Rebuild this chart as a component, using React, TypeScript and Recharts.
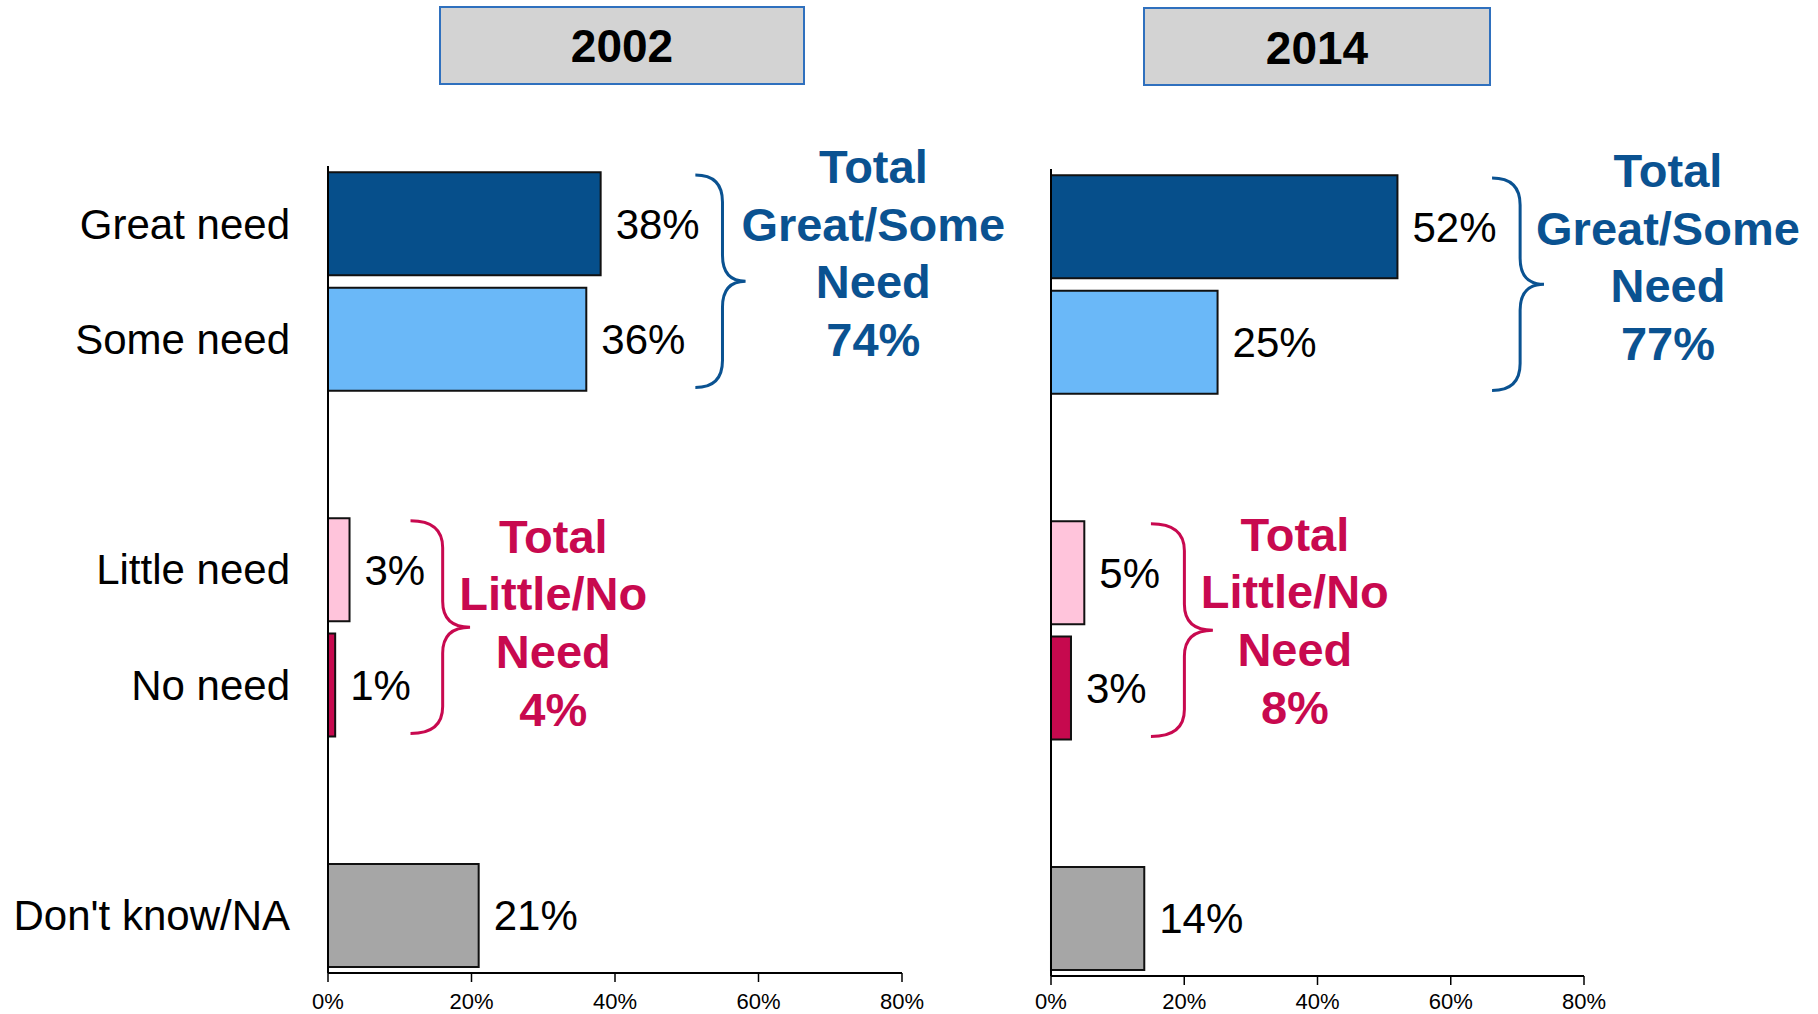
import React from "react";
import {
  BarChart,
  Bar,
  XAxis,
  YAxis,
  Cell,
  LabelList,
  ReferenceArea,
} from "recharts";

const categories = ["Great need", "Some need", "gap1", "Little need", "No need", "gap2", "Don't know/NA"];
const values2002 = [38, 36, null, 3, 1, null, 21];
const values2014 = [52, 25, null, 5, 3, null, 14];
const xTicks = [0, 20, 40, 60, 80];
const needWords = ["Total", "Great/Some", "Need"];
const littleWords = ["Total", "Little/No", "Need"];

const FONT = "'Liberation Sans', Arial, sans-serif";
const BLUE = "#0A5291";
const PINK = "#C8094F";
const barColors = ["#064F8B", "#6AB8F8", "none", "#FFC4DB", "#C6094E", "none", "#A6A6A6"];

const toRows = (vals: (number | null)[]) =>
  categories.map((cat, i) => ({ cat, value: vals[i] }));

const sum = (vals: (number | null)[], a: number, b: number) =>
  (vals[a] ?? 0) + (vals[b] ?? 0);

function Brace(props: any) {
  const { x, y, width, height, color, lines, textX, x1, x2, firstDy } = props;
  if (x == null) return null;
  const y0 = y + 9;
  const y1 = y + height - 9;
  const ym = y + height / 2;
  const xe = x;
  const xs = x + width * 0.54;
  const xt = x + width;
  const r = 27;
  const r2 = 26;
  const d = `M ${xe} ${y0} Q ${xs} ${y0} ${xs} ${y0 + r} L ${xs} ${ym - r2} Q ${xs} ${ym} ${xt} ${ym} Q ${xs} ${ym} ${xs} ${ym + r2} L ${xs} ${y1 - r} Q ${xs} ${y1} ${xe} ${y1}`;
  const cx = x + ((textX - x1) / (x2 - x1)) * width;
  return (
    <g>
      <path d={d} fill="none" stroke={color} strokeWidth={3} />
      {lines.map((t: string, i: number) => (
        <text
          key={i}
          x={cx}
          y={ym + firstDy + i * 57.8}
          textAnchor="middle"
          dominantBaseline="central"
          fontSize={47}
          fontWeight="bold"
          fontFamily={FONT}
          fill={color}
        >
          {t}
        </text>
      ))}
    </g>
  );
}

type Group = {
  from: string;
  to: string;
  x1: number;
  x2: number;
  textX: number;
  firstDy: number;
  color: string;
  lines: string[];
};

function YearChart({
  values,
  groups,
  showLabels,
  width,
  marginTop,
  marginRight,
  yAxisWidth,
  xAxisHeight,
  xTickMargin,
}: {
  values: (number | null)[];
  groups: Group[];
  showLabels: boolean;
  width: number;
  marginTop: number;
  marginRight: number;
  yAxisWidth: number;
  xAxisHeight: number;
  xTickMargin: number;
}) {
  const data = toRows(values);
  return (
    <BarChart
      width={width}
      height={1014}
      data={data}
      layout="vertical"
      margin={{ top: marginTop, right: marginRight, bottom: 0, left: 0 }}
      barCategoryGap="5.5%"
    >
      <XAxis
        type="number"
        domain={[0, 80]}
        ticks={xTicks}
        tickFormatter={(v) => `${v}%`}
        height={xAxisHeight}
        axisLine={{ stroke: "#000", strokeWidth: 2 }}
        tickLine={{ stroke: "#000", strokeWidth: 1.5 }}
        tickSize={9}
        tickMargin={xTickMargin}
        tick={{ fill: "#000", fontSize: 22, fontFamily: FONT }}
        interval={0}
      />
      <YAxis
        type="category"
        dataKey="cat"
        width={yAxisWidth}
        axisLine={{ stroke: "#000", strokeWidth: 2 }}
        tickLine={false}
        tickMargin={32}
        tick={showLabels ? { fill: "#000", fontSize: 42, fontFamily: FONT } : false}
        tickFormatter={(v: string) => (v.startsWith("gap") ? "" : v)}
        interval={0}
      />
      <Bar dataKey="value" isAnimationActive={false} stroke="#111" strokeWidth={2}>
        {data.map((d, i) => (
          <Cell key={d.cat} fill={barColors[i]} />
        ))}
        <LabelList
          dataKey="value"
          position="right"
          offset={15}
          formatter={(v: any) => (v == null ? "" : `${v}%`)}
          style={{ fill: "#000", fontSize: 42, fontFamily: FONT }}
        />
      </Bar>
      {groups.map((g) => (
        <ReferenceArea
          key={g.from}
          y1={g.from}
          y2={g.to}
          x1={g.x1}
          x2={g.x2}
          ifOverflow="visible"
          shape={(p: any) => (
            <Brace
              {...p}
              color={g.color}
              lines={g.lines}
              textX={g.textX}
              x1={g.x1}
              x2={g.x2}
              firstDy={g.firstDy}
            />
          )}
        />
      ))}
    </BarChart>
  );
}

const boxStyle: React.CSSProperties = {
  position: "absolute",
  boxSizing: "border-box",
  background: "#D3D3D3",
  border: "2px solid #2F70BE",
  display: "flex",
  alignItems: "center",
  justifyContent: "center",
  fontWeight: "bold",
  fontSize: 46,
  color: "#000",
};

export default function App() {
  const groups2002: Group[] = [
    {
      from: "Great need",
      to: "Some need",
      x1: 51.2,
      x2: 58.2,
      textX: 76.0,
      firstDy: -115,
      color: BLUE,
      lines: [...needWords, `${sum(values2002, 0, 1)}%`],
    },
    {
      from: "Little need",
      to: "No need",
      x1: 11.5,
      x2: 19.8,
      textX: 31.4,
      firstDy: -91,
      color: PINK,
      lines: [...littleWords, `${sum(values2002, 3, 4)}%`],
    },
  ];
  const groups2014: Group[] = [
    {
      from: "Great need",
      to: "Some need",
      x1: 66.2,
      x2: 74.0,
      textX: 92.6,
      firstDy: -114,
      color: BLUE,
      lines: [...needWords, `${sum(values2014, 0, 1)}%`],
    },
    {
      from: "Little need",
      to: "No need",
      x1: 15.0,
      x2: 24.3,
      textX: 36.6,
      firstDy: -96,
      color: PINK,
      lines: [...littleWords, `${sum(values2014, 3, 4)}%`],
    },
  ];

  return (
    <div
      style={{
        position: "absolute",
        left: 0,
        top: 0,
        width: 1818,
        height: 1014,
        background: "#fff",
        fontFamily: FONT,
        overflow: "hidden",
      }}
    >
      <div style={{ ...boxStyle, left: 439, top: 6, width: 366, height: 79, paddingTop: 0 }}>2002</div>
      <div style={{ ...boxStyle, left: 1143, top: 7, width: 348, height: 79, paddingTop: 2 }}>2014</div>

      <div style={{ position: "absolute", left: 0, top: 0 }}>
        <YearChart
          values={values2002}
          groups={groups2002}
          showLabels
          width={1040}
          marginTop={166}
          marginRight={138}
          yAxisWidth={328}
          xAxisHeight={41}
          xTickMargin={11}
        />
      </div>
      <div style={{ position: "absolute", left: 990, top: 0 }}>
        <YearChart
          values={values2014}
          groups={groups2014}
          showLabels={false}
          width={828}
          marginTop={169}
          marginRight={234}
          yAxisWidth={61}
          xAxisHeight={38}
          xTickMargin={8}
        />
      </div>
    </div>
  );
}
